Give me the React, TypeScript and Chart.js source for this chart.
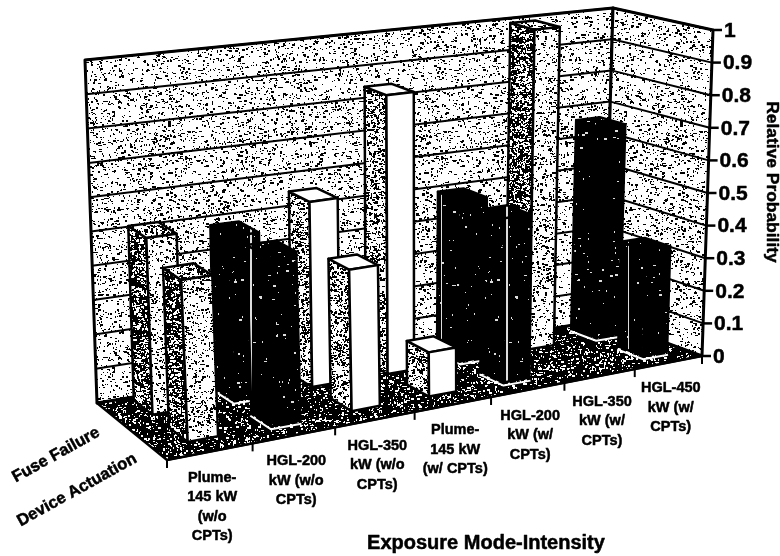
import React, { useEffect, useRef } from "react";
import { Chart, registerables, BarController } from "chart.js";

Chart.register(...registerables);

const categories = [
  ["Plume-", "145 kW", "(w/o", "CPTs)"],
  ["HGL-200", "kW (w/o", "CPTs)"],
  ["HGL-350", "kW (w/o", "CPTs)"],
  ["Plume-", "145 kW", "(w/ CPTs)"],
  ["HGL-200", "kW (w/", "CPTs)"],
  ["HGL-350", "kW (w/", "CPTs)"],
  ["HGL-450", "kW (w/", "CPTs)"],
];
const deviceActuation = [0.455, 0.485, 0.41, 0.13, 0.49, 0, 0.325];
const fuseFailure = [0.51, 0.48, 0.55, 0.84, 0.49, 0.99, 0.66];
const barLooks = ["stipple", "dark", "white", "white", "dark", "stipple", "dark"];

// Corners of the 3-D box on the page: [floor, top] at each (across, depth) corner.
const FL = [[167, 460], [150, 98]];
const FR = [[702, 356], [713, 30]];
const BL = [[97, 403], [85, 60]];
const BR = [[604, 320], [613, 8]];
const WARP = 0.14;
const ROW_DEPTH = [[0.2, 0.46], [0.69, 0.95]];
const BAR_SHIFT = 6.5;

type Pt = [number, number];
const lerp = (a: number, b: number, k: number) => a + (b - a) * k;
function project(chart: any, px: number, py: number, d: number): Pt {
  const a = chart.chartArea;
  const u = (px - a.left) / (a.right - a.left);
  const t = u + WARP * u * (1 - u);
  const v = (a.bottom - py) / (a.bottom - a.top);
  const out: Pt = [0, 0];
  for (let i = 0; i < 2; i++) {
    const fl = lerp(FL[0][i], FL[1][i], v);
    const fr = lerp(FR[0][i], FR[1][i], v);
    const bl = lerp(BL[0][i], BL[1][i], v);
    const br = lerp(BR[0][i], BR[1][i], v);
    out[i] = lerp(lerp(fl, fr, t), lerp(bl, br, t), d);
  }
  return out;
}

function grain(density: number, ink: string, paper: string, seed: number, streaks = 0) {
  const size = 256;
  const c = document.createElement("canvas");
  c.width = size;
  c.height = size;
  const g = c.getContext("2d")!;
  g.fillStyle = paper;
  g.fillRect(0, 0, size, size);
  g.fillStyle = ink;
  let s = seed;
  const next = () => {
    s = (s * 1664525 + 1013904223) >>> 0;
    return s / 4294967296;
  };
  const n = Math.floor(size * size * density);
  for (let i = 0; i < n; i++) {
    const x = Math.floor(next() * size);
    const y = Math.floor(next() * size);
    const r = next();
    const w = r < 0.55 ? 1 : r < 0.85 ? 2 : 3;
    const h = next() < 0.6 ? 1 : 2;
    g.fillRect(x, y, w, h);
  }
  for (let i = 0; i < streaks; i++) {
    g.fillRect(Math.floor(next() * size), 0, 1, size);
  }
  return g.createPattern(c, "repeat")!;
}

let looks: any = null;
function getLooks() {
  if (looks) return looks;
  const wall = grain(0.075, "#000", "#fff", 11);
  const side = grain(0.2, "#000", "#fff", 23);
  const light = grain(0.1, "#000", "#fff", 37);
  const dense = grain(0.22, "#fff", "#000", 41);
  const floor = grain(0.09, "#fff", "#000", 53);
  const dark = grain(0.006, "#ddd", "#000", 67, 5);
  looks = {
    wall,
    floor,
    stipple: { front: light, side: dense, top: side },
    white: { front: "#fff", side, top: "#fff" },
    dark: { front: dark, side: dark, top: dark },
  };
  return looks;
}

function poly(ctx: CanvasRenderingContext2D, pts: Pt[], fill: any, lw = 2) {
  ctx.beginPath();
  pts.forEach((p, i) => (i ? ctx.lineTo(p[0], p[1]) : ctx.moveTo(p[0], p[1])));
  ctx.closePath();
  if (fill) {
    ctx.fillStyle = fill;
    ctx.fill();
  }
  if (lw) {
    ctx.lineWidth = lw;
    ctx.strokeStyle = "#000";
    ctx.lineJoin = "round";
    ctx.stroke();
  }
}

function inkText(ctx: CanvasRenderingContext2D, s: string, x: number, y: number) {
  ctx.lineWidth = 0.5;
  ctx.lineJoin = "round";
  ctx.strokeText(s, x, y);
  ctx.fillText(s, x, y);
}

class Bar3DController extends BarController {
  static id = "bar3d";
  draw() {
    const chart: any = this.chart;
    const ctx: CanvasRenderingContext2D = chart.ctx;
    const [d0, d1] = ROW_DEPTH[this.index === 0 ? 0 : 1];
    const meta: any = this.getMeta();
    meta.data.forEach((el: any, i: number) => {
      if (!(Math.abs(el.base - el.y) > 0.5)) return;
      const look = getLooks()[barLooks[i]];
      const x0 = el.x - el.width / 2 + BAR_SHIFT;
      const x1 = el.x + el.width / 2 + BAR_SHIFT;
      const P = (x: number, y: number, d: number) => project(chart, x, y, d);
      poly(ctx, [P(x0, el.y, d0), P(x0, el.y, d1), P(x0, el.base, d1), P(x0, el.base, d0)], look.side, 2.5);
      poly(ctx, [P(x0, el.y, d0), P(x0, el.y, d1), P(x1, el.y, d1), P(x1, el.y, d0)], look.top, 2.5);
      poly(ctx, [P(x0, el.y, d0), P(x1, el.y, d0), P(x1, el.base, d0), P(x0, el.base, d0)], look.front, 2.5);
      if (barLooks[i] === "dark") {
        ctx.beginPath();
        const a = P(x0, el.base, d1);
        const b = P(x0, el.base, d0);
        const c = P(x1, el.base, d0);
        ctx.moveTo(a[0] - 1, a[1] + 3);
        ctx.lineTo(b[0], b[1] + 3);
        ctx.lineTo(c[0] + 1, c[1] + 3);
        ctx.strokeStyle = "#fff";
        ctx.lineWidth = 2;
        ctx.stroke();
      }
    });
  }
}

const box3d = {
  id: "box3d",
  beforeDatasetsDraw(chart: any) {
    const ctx: CanvasRenderingContext2D = chart.ctx;
    const { left, right, top, bottom } = chart.chartArea;
    const L = getLooks();
    const P = (x: number, y: number, d: number) => project(chart, x, y, d);
    ctx.save();
    poly(ctx, [P(left, bottom, 1), P(right, bottom, 1), P(right, bottom, 0), P(left, bottom, 0)], L.floor, 2.5);
    poly(ctx, [P(left, top, 1), P(right, top, 1), P(right, bottom, 1), P(left, bottom, 1)], L.wall, 3);
    poly(ctx, [P(right, top, 1), P(right, top, 0), P(right, bottom, 0), P(right, bottom, 1)], L.wall, 3);
    const y = chart.scales.y;
    ctx.strokeStyle = "#000";
    ctx.lineWidth = 2;
    y.ticks.forEach((tk: any) => {
      const py = y.getPixelForValue(tk.value);
      const a = P(left, py, 1);
      const b = P(right, py, 1);
      const c = P(right, py, 0);
      ctx.beginPath();
      ctx.moveTo(a[0], a[1]);
      ctx.lineTo(b[0], b[1]);
      ctx.lineTo(c[0], c[1]);
      ctx.stroke();
    });
    ctx.restore();
  },
  afterDatasetsDraw(chart: any) {
    const ctx: CanvasRenderingContext2D = chart.ctx;
    const { left, right, bottom } = chart.chartArea;
    const x = chart.scales.x;
    const y = chart.scales.y;
    const P = (px: number, py: number, d: number) => project(chart, px, py, d);
    ctx.save();
    ctx.fillStyle = "#000";
    ctx.strokeStyle = "#000";

    // front floor edge, category ticks
    ctx.lineWidth = 2;
    const e0 = P(left, bottom, 0);
    const e1 = P(right, bottom, 0);
    ctx.beginPath();
    ctx.moveTo(e0[0], e0[1]);
    ctx.lineTo(e1[0], e1[1]);
    ctx.stroke();
    const n = categories.length;
    for (let i = 0; i <= n; i++) {
      const p = P(left + ((right - left) * i) / n, bottom, 0);
      ctx.beginPath();
      ctx.moveTo(p[0], p[1]);
      ctx.lineTo(p[0], p[1] + 8);
      ctx.stroke();
    }

    // category labels
    ctx.font = "bold 14.5px 'Liberation Sans'";
    ctx.textAlign = "center";
    ctx.textBaseline = "middle";
    x.getLabels().forEach((lines: string[], i: number) => {
      const p = P(x.getPixelForValue(i), bottom, 0);
      lines.forEach((line, j) => {
        inkText(ctx, line, p[0] + 2, p[1] + 26 + j * 19.5);
      });
    });

    // value axis
    ctx.font = "bold 21px 'Liberation Sans'";
    ctx.textAlign = "left";
    y.ticks.forEach((tk: any) => {
      const p = P(right, y.getPixelForValue(tk.value), 0);
      ctx.lineWidth = 2.5;
      ctx.beginPath();
      ctx.moveTo(p[0], p[1]);
      ctx.lineTo(p[0] + 9, p[1]);
      ctx.stroke();
      inkText(ctx, String(+tk.value.toFixed(1)), p[0] + 11, p[1] + 1);
    });

    // row labels
    chart.data.datasets.forEach((ds: any, i: number) => {
      const where = i === 0 ? [77, 490] : [56, 455];
      ctx.save();
      ctx.translate(where[0], where[1]);
      ctx.rotate((-29 * Math.PI) / 180);
      ctx.font = "bold 16.5px 'Liberation Sans'";
      ctx.textAlign = "center";
      inkText(ctx, ds.label, 0, 0);
      ctx.restore();
    });

    // axis titles
    ctx.textAlign = "center";
    ctx.font = "bold 20px 'Liberation Sans'";
    inkText(ctx, x.options.title.text, 486, 543);
    ctx.save();
    ctx.translate(772, 182);
    ctx.rotate(Math.PI / 2);
    ctx.font = "bold 17.4px 'Liberation Sans'";
    inkText(ctx, y.options.title.text, 0, 0);
    ctx.restore();
    ctx.restore();
  },
};

export default function App() {
  const ref = useRef<HTMLCanvasElement>(null);
  useEffect(() => {
    document.body.style.margin = "0";
    Chart.register(Bar3DController as any);
    const bars = { grouped: false, barPercentage: 0.9, categoryPercentage: 0.4, clip: false };
    const chart = new Chart(ref.current!, {
      type: "bar3d" as any,
      data: {
        labels: categories as any,
        datasets: [
          { label: "Device Actuation", data: deviceActuation, ...bars },
          { label: "Fuse Failure", data: fuseFailure, ...bars },
        ],
      },
      options: {
        responsive: false,
        animation: false,
        devicePixelRatio: 1,
        layout: { padding: { left: 167, right: 78, top: 30, bottom: 201 } },
        plugins: { legend: { display: false }, tooltip: { enabled: false } },
        scales: {
          x: {
            type: "category",
            display: false,
            offset: true,
            title: { text: "Exposure Mode-Intensity" },
          },
          y: {
            type: "linear",
            display: false,
            min: 0,
            max: 1,
            ticks: { stepSize: 0.1 },
            title: { text: "Relative Probability" },
          },
        },
      } as any,
      plugins: [box3d],
    });
    return () => chart.destroy();
  }, []);
  return <canvas ref={ref} width={780} height={556} style={{ display: "block" }} />;
}
